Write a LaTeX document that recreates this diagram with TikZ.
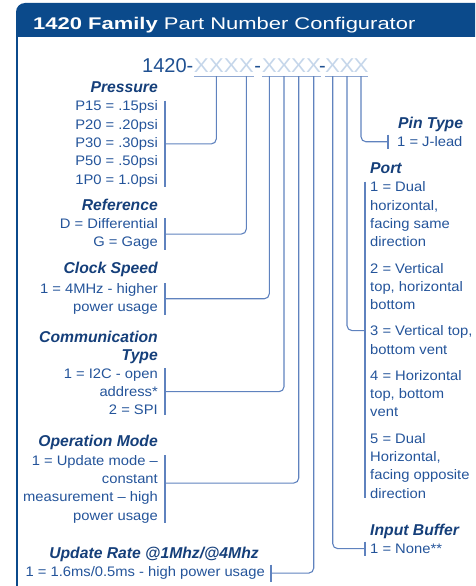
\documentclass[tikz,border=0pt]{standalone}
\usepackage{fontspec}
\setmainfont{Liberation Sans}
\newfontfamily\titlefont{Liberation Sans}[FakeStretch=1.3]
\newfontfamily\itemfont{Liberation Sans}[FakeStretch=1.07]
\newfontfamily\xfont{Liberation Sans}[FakeStretch=1.12]
\usepackage{xcolor}
\definecolor{hdrblue}{HTML}{0B4A8B}
\definecolor{headblue}{HTML}{153F7A}
\definecolor{itemblue}{HTML}{24549A}
\definecolor{pnblue}{HTML}{1F5091}
\definecolor{xblue}{HTML}{C5D6EA}
\definecolor{lineblue}{HTML}{5F82BE}

\begin{document}
\begin{tikzpicture}[x=1pt, y=-1pt,
    head/.style={font=\bfseries\itshape\fontsize{15.7}{18.3}\selectfont, text=headblue, inner sep=0pt},
    item/.style={font=\itemfont\fontsize{13.8}{18.3}\selectfont, text=itemblue, inner xsep=0pt, inner ysep=0pt},
    pnum/.style={font=\fontsize{20}{24}\selectfont, text=pnblue, inner sep=0pt, anchor=base},
    xph/.style={pnum, font=\xfont\fontsize{20}{24}\selectfont, text=xblue, inner xsep=0.3pt, inner ysep=4pt},
    uline/.style={draw=lineblue!70, line width=1.1pt},
    conn/.style={draw=lineblue, line width=1.1pt, rounded corners=5pt},
    brk/.style={draw=lineblue, line width=1.1pt}]
    \useasboundingbox (0,0) rectangle (475,586);
    \clip (0,0) rectangle (475,586);

    % frame and header
    \fill[hdrblue] (16,37) [rounded corners=9pt] -- (16,3) -- (490,3) [sharp corners] -- (490,37) -- cycle;
    \draw[hdrblue, line width=2pt] (17,20) -- (17,600);
    \node[font=\titlefont\fontsize{16.9}{20}\selectfont, text=white, inner sep=0pt, anchor=base west] (title) at (33,29.3)
        {\textbf{1420 Family} Part Number Configurator};

    % part number
    \node[pnum, anchor=base east] (pn) at (193.5,72) {1420-};
    \node[xph] (g1) at (216.3,72) {XXX};
    \node[xph] (g2) at (246.3,72) {X};
    \node[pnum] (d1) at (257.8,72) {-};
    \node[xph] (g3) at (269.3,72) {X};
    \node[xph] (g4) at (284,72) {X};
    \node[xph] (g5) at (298.7,72) {X};
    \node[xph] (g6) at (313.7,72) {X};
    \node[pnum] (d2) at (322.5,72) {-};
    \node[xph] (g7) at (332.7,72) {X};
    \node[xph] (g8) at (347,72) {X};
    \node[xph] (g9) at (361,72) {X};
    \foreach \g in {g1,g2,g3,g4,g5,g6,g7,g8,g9}
        \draw[uline] ([xshift=0.7pt]\g.south west) -- ([xshift=-0.7pt]\g.south east);

    % left column
    \node[head, anchor=base east] (presh) at (158,92.7) {Pressure};
    \node[item, align=right, anchor=north east] (pres) at (158,100.7)
        {P15 = .15psi\\P20 = .20psi\\P30 = .30psi\\P50 = .50psi\\1P0 = 1.0psi};
    \node[head, anchor=base east] (refh) at (158,210) {Reference};
    \node[item, align=right, anchor=north east] (refi) at (158,218.3) {D = Differential\\G = Gage};
    \node[head, anchor=base east] (clkh) at (158,273.5) {Clock Speed};
    \node[item, align=right, anchor=north east] (clki) at (158,283) {1 = 4MHz - higher\\power usage};
    \node[head, align=right, anchor=north east] (comh) at (158,330.5) {Communication\\Type};
    \node[item, align=right, anchor=north east] (comi) at (158,368.3) {1 = I2C - open\\address*\\2 = SPI};
    \node[head, anchor=base east] (oph) at (158,446) {Operation Mode};
    \node[item, align=right, anchor=north east] (opi) at (158,455)
        {1 = Update mode –\\constant\\measurement – high\\power usage};
    \node[head, anchor=base] (updh) at (154,558.3) {Update Rate @1Mhz/@4Mhz};
    \node[item, inner ysep=2pt, anchor=base east] (updi) at (265,576.7) {1 = 1.6ms/0.5ms - high power usage};

    % right column
    \node[head, anchor=base west] (pinh) at (398,128.3) {Pin Type};
    \node[item, inner ysep=2pt, anchor=base west] (pini) at (397,146.7) {1 = J-lead};
    \node[head, anchor=base west] (porth) at (370,173.3) {Port};
    \node[item, align=left, anchor=north west] (p1) at (370,181.7) {1 = Dual\\horizontal,\\facing same\\direction};
    \node[item, align=left, anchor=north west] (p2) at (370,262.8) {2 = Vertical\\top, horizontal\\bottom};
    \node[item, align=left, anchor=north west] (p3) at (370,325.6) {3 = Vertical top,\\bottom vent};
    \node[item, align=left, anchor=north west] (p4) at (370,370.1) {4 = Horizontal\\top, bottom\\vent};
    \node[item, align=left, anchor=north west] (p5) at (370,432.9) {5 = Dual\\Horizontal,\\facing opposite\\direction};
    \node[head, anchor=base west] (bufh) at (370,535) {Input Buffer};
    \node[item, inner ysep=2pt, anchor=base west] (bufi) at (370,553.3) {1 = None**};

    % brackets
    \foreach \n in {pres,refi,clki,comi,opi}
        \draw[brk] ([xshift=7pt]\n.north east) -- ([xshift=7pt]\n.south east);
    \draw[brk] ([xshift=6pt]updi.north east) -- ([xshift=6pt]updi.south east);
    \draw[brk] ([xshift=-9pt]pini.north west) -- ([xshift=-9pt]pini.south west);
    \draw[brk] ([xshift=-5pt]p1.north west) -- ([xshift=-5pt]p5.south west);
    \draw[brk] ([xshift=-5pt]bufi.north west) -- ([xshift=-5pt]bufi.south west);

    % connectors
    \draw[conn] (g1.south) |- ([xshift=7pt]pres.east);
    \draw[conn] (g2.south) |- ([xshift=7pt]refi.east);
    \draw[conn] (g3.south) |- ([xshift=7pt]clki.east);
    \draw[conn] (g4.south) |- ([xshift=7pt]comi.east);
    \draw[conn] (g5.south) |- ([xshift=7pt,yshift=6pt]opi.east);
    \draw[conn] (g6.south) |- ([xshift=6pt]updi.east);
    \draw[conn] (g7.south) |- ([xshift=-5pt]bufi.west);
    \draw[conn] (g8.south) |- ([xshift=-5pt,yshift=-5pt]p3.north west);
    \draw[conn] (g9.south) |- ([xshift=-9pt]pini.west);
\end{tikzpicture}
\end{document}
